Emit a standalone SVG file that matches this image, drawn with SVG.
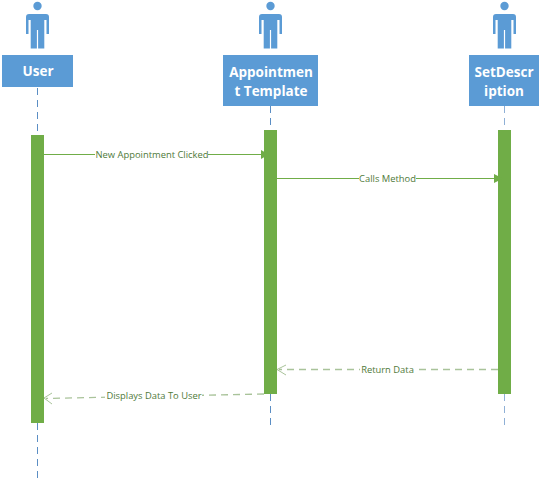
<svg xmlns="http://www.w3.org/2000/svg" width="542" height="479" viewBox="0 0 542 479">
<style>
.bg{fill:#fff}
.box{fill:#5b9bd5}
.bar{fill:#70ad47}
.life{fill:none;stroke:#5b8ec4;stroke-width:1;stroke-dasharray:7 5}
.msg{fill:none;stroke:#70ad47;stroke-width:1}
.ret{fill:none;stroke:#a9c39a;stroke-width:1.300;stroke-dasharray:7 5}
.hook{fill:none;stroke:#a9c39a;stroke-width:1}
.head{fill:#70ad47}
.name{font-family:"Open Sans","Noto Sans",sans-serif;font-weight:700;font-size:13.500px;fill:#fff;text-anchor:middle}
.lab{font-family:"Open Sans","Noto Sans",sans-serif;font-size:9.400px;fill:#4f7a3a;text-anchor:middle}
.lb{fill:#fff}
</style>
<defs>
<g id="person">
<circle cx="0" cy="6" r="4.200" fill="#5b9bd5"/>
<path d="M-8.500 14H8.500Q11.500 14 11.500 17V34H9V20H6.800V48.500H0.600V30H-0.600V48.500H-6.800V20H-9V34H-11.500V17Q-11.500 14 -8.500 14Z" fill="#5b9bd5"/>
</g>
</defs>
<rect class="bg" width="542" height="479"/>
<g id="connectors">
<path class="life" d="M37.500 88V135M37.500 423V479"/>
<path class="life" d="M270.500 106V130M270.500 394V428"/>
<path class="life" d="M504.500 106V130M504.500 394V428" style="stroke:#8fb0d6"/>
</g>
<g id="node-user">
<use href="#person" x="37.500" y="0"/>
<rect class="box" x="2" y="55" width="71" height="32"/>
<text class="name" x="38" y="76">User</text>
<rect class="bar" x="31" y="135" width="13" height="288"/>
</g>
<g id="node-appointment">
<use href="#person" x="270.500" y="0"/>
<rect class="box" x="223" y="55" width="95" height="51"/>
<text class="name" x="271" y="77">Appointmen</text>
<text class="name" x="271" y="96">t Template</text>
<rect class="bar" x="264" y="130" width="13" height="264"/>
</g>
<g id="node-setdescription">
<use href="#person" x="504.500" y="0"/>
<rect class="box" x="469" y="55" width="70" height="51"/>
<text class="name" x="504" y="77">SetDescr</text>
<text class="name" x="504" y="96">iption</text>
<rect class="bar" x="498" y="130" width="13" height="264"/>
</g>
<g id="messages">
<path class="msg" d="M44 154.500H262"/>
<path class="head" d="M261 150L269 154.500L261 159Z"/>
<rect class="lb" x="95" y="149" width="113" height="12"/>
<text class="lab" x="152" y="158">New Appointment Clicked</text>
<path class="msg" d="M277 178.500H496"/>
<path class="head" d="M494 174L503 178.500L494 183Z"/>
<rect class="lb" x="359" y="173" width="57" height="12"/>
<text class="lab" x="387.500" y="181.500">Calls Method</text>
<path class="ret" d="M498 369.500H279"/>
<path class="hook" d="M286 365L277 369.500L286 375"/>
<rect class="lb" x="360" y="363" width="55" height="13"/>
<text class="lab" x="387.500" y="373">Return Data</text>
<path class="ret" d="M264 394L46 398.500"/>
<path class="hook" d="M52 393L44 398L52 404"/>
<rect class="lb" x="105" y="390" width="97" height="13"/>
<text class="lab" x="154" y="399">Displays Data To User</text>
</g>
</svg>
